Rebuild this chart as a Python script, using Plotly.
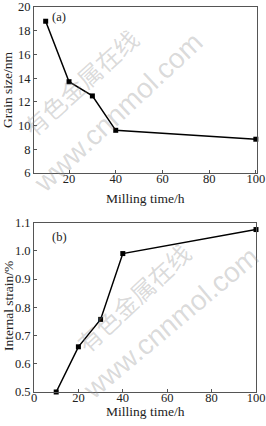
import plotly.graph_objects as go

# Data
milling_time = [10, 20, 30, 40, 100]
grain_size = [18.8, 13.7, 12.5, 9.6, 8.85]
internal_strain = [0.50, 0.66, 0.757, 0.99, 1.075]

W, H = 266, 426
FONT = "Liberation Serif, Times New Roman, serif"

fig = go.Figure()
fig.add_trace(go.Scatter(x=milling_time, y=grain_size, mode="lines+markers",
                         line=dict(color="black", width=1.5),
                         marker=dict(symbol="square", size=5, color="black"),
                         xaxis="x", yaxis="y", showlegend=False, cliponaxis=False))
fig.add_trace(go.Scatter(x=milling_time, y=internal_strain, mode="lines+markers",
                         line=dict(color="black", width=1.5),
                         marker=dict(symbol="square", size=5, color="black"),
                         xaxis="x2", yaxis="y2", showlegend=False, cliponaxis=False))

def px_x(p):
    return p / W

def px_y(p):
    return 1 - p / H

axis_common = dict(showline=True, linecolor="#555", linewidth=1, mirror=True,
                   ticks="inside", ticklen=3, tickcolor="#555", showgrid=False,
                   zeroline=False, automargin=False, ticklabeloverflow="allow",
                   tickfont=dict(family=FONT, size=12.5, color="#222"))

fig.update_layout(
    width=W, height=H, margin=dict(l=0, r=0, t=0, b=0, autoexpand=False),
    paper_bgcolor="white", plot_bgcolor="white",
    font=dict(family=FONT, color="#222"),
    xaxis=dict(domain=[px_x(34), px_x(257)], range=[5, 100.5],
               tickvals=[20, 40, 60, 80, 100], anchor="y", ticklabelstandoff=-6,
               **axis_common),
    yaxis=dict(domain=[px_y(173), px_y(7)], range=[6, 20],
               tickvals=[6, 8, 10, 12, 14, 16, 18, 20], anchor="x", **axis_common),
    xaxis2=dict(domain=[px_x(34), px_x(256)], range=[0, 100],
                tickvals=[0, 20, 40, 60, 80, 100], anchor="y2", ticklabelstandoff=-6,
                **axis_common),
    yaxis2=dict(domain=[px_y(392), px_y(222.5)], range=[0.5, 1.1],
                tickvals=[0.5, 0.6, 0.7, 0.8, 0.9, 1.0, 1.1], tickformat=".1f",
                anchor="x2", **axis_common),
)

def ann(text, x, y, size=13, angle=0, color="#222", family=FONT):
    fig.add_annotation(text=text, x=px_x(x), y=px_y(y), xref="paper", yref="paper",
                       showarrow=False, textangle=angle,
                       font=dict(family=family, size=size, color=color),
                       xanchor="center", yanchor="middle")

# watermark
wm = "rgba(140,140,140,0.33)"
ann("有色金属在线", 80, 82, size=24, angle=-42, color=wm, family="Noto Sans CJK SC")
ann("www.cnnmol.com", 118, 113, size=28, angle=-43, color=wm, family="Liberation Sans")
ann("有色金属在线", 133, 297, size=24, angle=-43, color=wm, family="Noto Sans CJK SC")
ann("www.cnnmol.com", 170, 323, size=28, angle=-40, color=wm, family="Liberation Sans")

# panel labels and titles
ann("(a)", 59, 17, size=12.5)
ann("(b)", 59, 237, size=12.5)
ann("Milling time/h", 145, 198, size=13.5)
ann("Milling time/h", 145, 411, size=13.5)
ann("Grain size/nm", 8, 90, size=13.5, angle=-90)
ann("Internal strain/%", 8, 306, size=13.5, angle=-90)

fig.write_html("out.html", config={"responsive": False})
